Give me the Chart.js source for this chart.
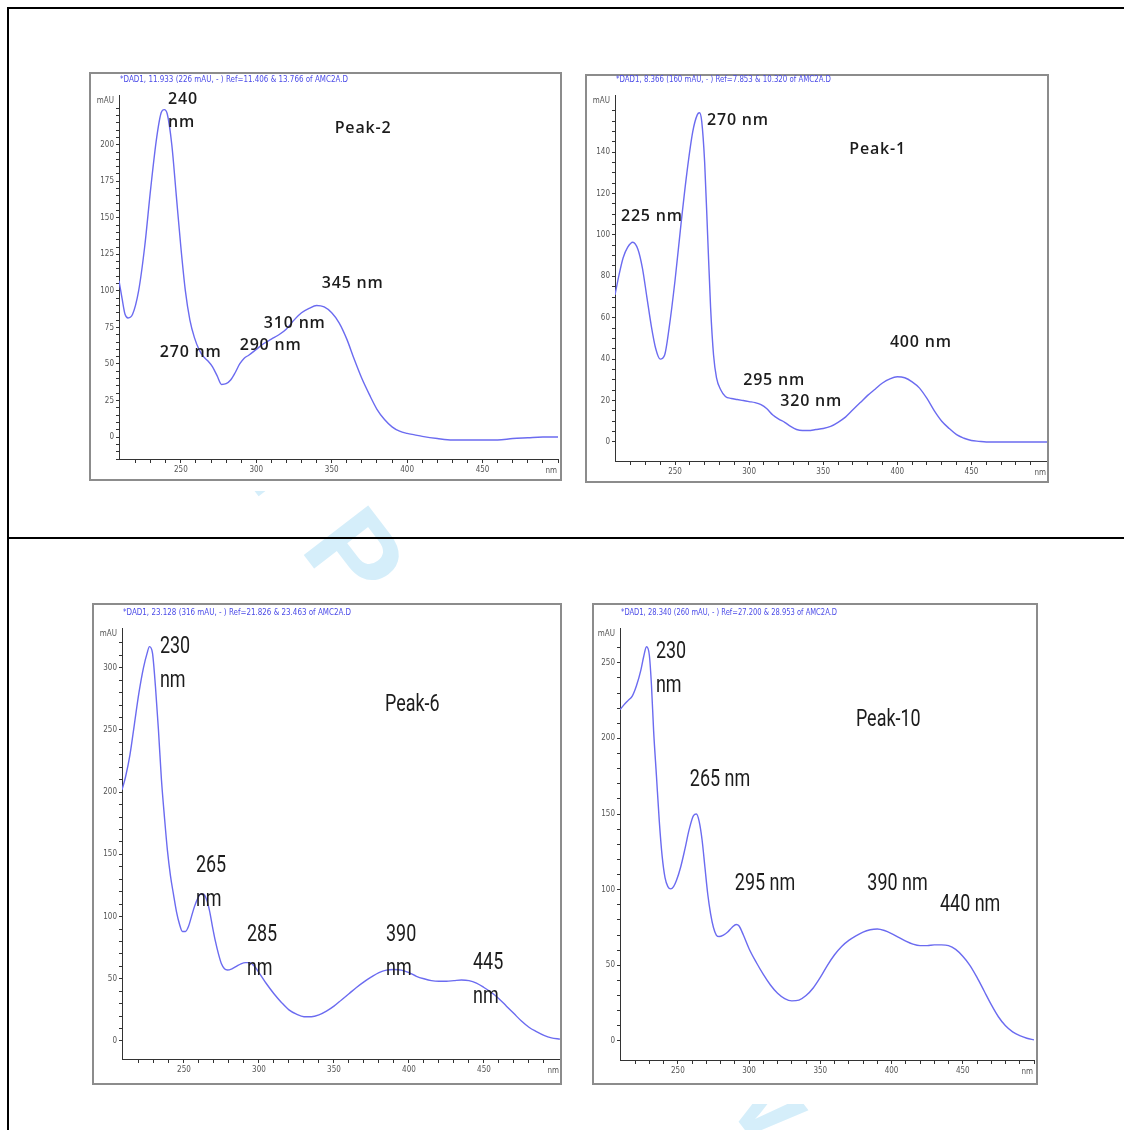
<!DOCTYPE html>
<html><head>
<meta charset="utf-8">
<title>UV spectra</title>
<script src="https://cdn.jsdelivr.net/npm/chart.js"></script>
<style>
body { margin:0; background:#fff; width:1124px; height:1130px; position:relative; overflow:hidden; }
.rule { position:absolute; background:#000; z-index:3; }
.wm { position:absolute; left:228px; top:292px; transform-origin:0 0; transform:rotate(52.5deg); letter-spacing:6px;
      font:bold 118px "Liberation Sans", Arial, sans-serif; line-height:1; color:#d5eefa; white-space:nowrap; z-index:1; }
.cover { position:absolute; background:#fff; z-index:2; }
.frame { position:absolute; box-sizing:border-box; border:2px solid #8c8c8c; background:#fff; z-index:2; }
canvas { position:absolute; z-index:4; }
</style>
</head>
<body>
<div class="wm">For Peer Review</div>
<div class="cover" style="left:9px;top:9px;width:1115px;height:482px"></div>
<div class="cover" style="left:9px;top:592px;width:1115px;height:512px"></div>
<div class="rule" style="left:8px;top:7px;width:1116px;height:2px"></div>
<div class="rule" style="left:7px;top:7px;width:2px;height:1123px"></div>
<div class="rule" style="left:8px;top:537px;width:1116px;height:2px"></div>
<div id="frames"></div>
<script>
// Peak-2 (top left)
var peak2Wl  = [209, 211, 213, 215, 218, 222, 226, 230, 234, 237, 239, 241, 244, 247, 250, 253, 256, 259, 262, 265, 268, 271, 274, 277, 280, 283, 286, 289, 292, 295, 300, 305, 310, 315, 320, 325, 330, 335, 340, 345, 350, 355, 360, 365, 370, 375, 380, 385, 390, 395, 400, 405, 410, 420, 430, 440, 450, 460, 470, 480, 490, 500];
var peak2Abs = [107, 95, 84, 81.5, 84, 100, 130, 170, 205, 222, 224, 221, 200, 165, 130, 100, 80, 68, 60, 55, 52, 48, 42, 36, 36.5, 39, 44, 50, 54, 56, 60, 64, 67, 70, 74, 80, 85, 88, 90, 89, 85, 78, 67, 53, 40, 29, 19, 12, 7, 4, 2.5, 1.5, 0.5, -1, -2, -2, -2, -2, -1, -0.5, 0, 0];
var peak2Labels = [
  {text: '240\nnm', x: 241.5, y: 230.8},
  {text: 'Peak-2', x: 352, y: 211},
  {text: '345 nm', x: 343.4, y: 104.8},
  {text: '310 nm', x: 305, y: 78},
  {text: '290 nm', x: 289, y: 63},
  {text: '270 nm', x: 236, y: 58}
];

// Peak-1 (top right)
var peak1Wl  = [209.5, 212, 215, 218, 221.5, 225, 228, 231, 234, 237, 240, 243, 246, 250, 254, 258, 262, 265, 266.5, 268, 270, 272, 274, 276, 278, 281, 284, 288, 292, 296, 300, 304, 308, 312, 316, 320, 324, 328, 332, 336, 340, 345, 350, 355, 360, 365, 370, 375, 380, 385, 390, 395, 400, 405, 410, 415, 420, 425, 430, 435, 440, 445, 450, 455, 460, 470, 480, 490, 501];
var peak1Abs = [71, 80, 89, 94, 96.5, 93, 84, 70, 56, 45, 40, 42, 55, 78, 105, 130, 150, 158, 159, 155, 135, 100, 65, 42, 31, 25, 22, 21, 20.5, 20, 19.5, 19, 18, 16, 13, 11, 9.5, 7.5, 6, 5.5, 5.5, 6, 6.5, 7.5, 9.5, 12, 15.5, 19, 22.5, 25.5, 28.5, 30.5, 31.5, 31, 29, 26, 21, 15, 10, 6.5, 3.5, 1.8, 0.7, 0.3, 0, 0, 0, 0, 0];
var peak1Labels = [
  {text: '270 nm', x: 271.6, y: 155.5},
  {text: 'Peak-1', x: 367.6, y: 141.5},
  {text: '225 nm', x: 213.5, y: 109},
  {text: '400 nm', x: 395, y: 48.3},
  {text: '295 nm', x: 296, y: 29.5},
  {text: '320 nm', x: 321, y: 19.8}
];

// Peak-6 (bottom left)
var peak6Wl  = [208.7, 211, 214, 217, 220, 223, 225.5, 227, 229, 231, 233, 235, 237, 239, 241, 243, 245, 247, 249, 251, 253, 255, 257, 259, 261, 263, 265, 267, 269, 271, 273, 275, 277, 279, 282, 285, 288, 291, 294, 297, 300, 305, 310, 315, 320, 325, 330, 335, 340, 345, 350, 355, 360, 365, 370, 375, 380, 385, 390, 395, 400, 405, 410, 415, 420, 425, 430, 435, 440, 445, 450, 455, 460, 465, 470, 475, 480, 485, 490, 495, 500.7];
var peak6Abs = [202, 212, 230, 255, 280, 300, 312, 317, 312, 285, 250, 210, 180, 153, 133, 118, 104, 94, 88, 88, 92, 100, 108, 114, 118, 118, 114, 105, 92, 80, 70, 62, 58, 57, 58, 60, 62, 63, 63, 60, 55, 46, 38, 31, 25, 21.5, 19.5, 19.5, 21, 24, 28, 33, 38, 43, 47.5, 51.5, 55, 57, 57.5, 57, 55, 52, 50, 48.5, 48, 48, 48.5, 49, 48.5, 46.5, 43, 39, 34, 28, 22, 16, 11, 7.5, 4.5, 2.5, 1.5];
var peak6Labels = [
  {text: '230\nnm', x: 234, y: 316.7},
  {text: 'Peak-6', x: 384, y: 270},
  {text: '265\nnm', x: 258, y: 140.7},
  {text: '285\nnm', x: 292, y: 85},
  {text: '390\nnm', x: 384.7, y: 85},
  {text: '445\nnm', x: 442.7, y: 62.7}
];

// Peak-10 (bottom right)
var peak10Wl  = [209.4, 212, 215, 218, 221, 224, 226, 228, 230, 231.5, 233, 235, 237, 239, 241, 243, 245, 247, 249, 252, 255, 258, 261, 263, 265, 267, 269, 271, 273, 275, 277, 279, 282, 285, 288, 291, 293, 296, 300, 305, 310, 315, 320, 325, 330, 335, 340, 345, 350, 355, 360, 365, 370, 375, 380, 385, 390, 395, 400, 405, 410, 415, 420, 425, 430, 435, 440, 445, 450, 455, 460, 465, 470, 475, 480, 485, 490, 495, 500];
var peak10Abs = [219, 222, 225, 228, 235, 245, 254, 260.6, 255, 235, 205, 175, 145, 122, 108, 102, 100.5, 102, 106, 115, 127, 140, 149, 150, 145, 133, 115, 97, 84, 75, 70, 69, 70, 72, 75, 77, 76, 70, 61, 52, 44, 37, 31.5, 28, 26.5, 27, 30, 35, 42, 50, 57, 62.5, 66.5, 69.5, 72, 73.5, 74, 73, 71, 68.5, 66, 64, 63, 63, 63.5, 63.5, 63, 60.5, 56, 50, 42, 33, 24, 16, 10, 6, 3.5, 1.8, 0.7];
var peak10Labels = [
  {text: '230\nnm', x: 234.6, y: 257},
  {text: 'Peak-10', x: 375, y: 212},
  {text: '265 nm', x: 258.4, y: 172.6},
  {text: '295 nm', x: 290, y: 103.8},
  {text: '390 nm', x: 383, y: 103.8},
  {text: '440 nm', x: 434, y: 90}
];

var panels = [
  {title: '*DAD1, 11.933 (226 mAU, - ) Ref=11.406 & 13.766 of AMC2A.D', titleW: 228,
   wl: peak2Wl, abs: peak2Abs, labels: peak2Labels, yMin: -15, yMax: 234, yMajor: 25, yMinor: 5, yTop: 200,
   box: [89, 72, 560, 479], area: [119, 95, 560, 459], font: '600 16px "Open Sans"', spacing: '0.8px', squeeze: 1, gap: 23},
  {title: '*DAD1, 8.366 (160 mAU, - ) Ref=7.853 & 10.320 of AMC2A.D', titleW: 215,
   wl: peak1Wl, abs: peak1Abs, labels: peak1Labels, yMin: -9.2, yMax: 167.6, yMajor: 20, yMinor: 5, yTop: 140,
   box: [585, 74, 1047, 481], area: [615, 95, 1047, 461], font: '600 16px "Open Sans"', spacing: '0.8px', squeeze: 1, gap: 23},
  {title: '*DAD1, 23.128 (316 mAU, - ) Ref=21.826 & 23.463 of AMC2A.D', titleW: 228,
   wl: peak6Wl, abs: peak6Abs, labels: peak6Labels, yMin: -14.5, yMax: 332, yMajor: 50, yMinor: 10, yTop: 300,
   box: [92, 603, 560, 1083], area: [122, 628, 560, 1059], font: '23px Roboto', spacing: '0px', squeeze: 0.78, gap: 34},
  {title: '*DAD1, 28.340 (260 mAU, - ) Ref=27.200 & 28.953 of AMC2A.D', titleW: 216,
   wl: peak10Wl, abs: peak10Abs, labels: peak10Labels, yMin: -12.6, yMax: 273, yMajor: 50, yMinor: 10, yTop: 250,
   box: [592, 603, 1036, 1083], area: [620, 628, 1036, 1060], font: '23px Roboto', spacing: '0px', squeeze: 0.78, gap: 34}
];

var tickFont = {family: '"Liberation Sans Narrow", "DejaVu Sans Condensed", sans-serif', size: 8};

var annotate = {
  id: 'annotate',
  afterDraw: function(chart, args, o) {
    var ctx = chart.ctx, xs = chart.scales.x, ys = chart.scales.y, a = chart.chartArea;
    ctx.save();
    ctx.textBaseline = 'middle';
    ctx.textAlign = 'left';
    ctx.fillStyle = '#4b4be8';
    ctx.font = '8px "DejaVu Sans Condensed", sans-serif';
    ctx.fillText(o.p.title, a.left + 1, a.top - 15, o.p.titleW);
    ctx.fillStyle = '#555';
    ctx.textAlign = 'right';
    ctx.fillText('mAU', a.left - 5, a.top + 6);
    ctx.fillText('nm', a.right - 1, a.bottom + 12);
    ctx.textAlign = 'left';
    ctx.fillStyle = '#1c1c1c';
    ctx.font = o.p.font;
    ctx.letterSpacing = o.p.spacing;
    o.p.labels.forEach(function(l) {
      var px = xs.getPixelForValue(l.x), py = ys.getPixelForValue(l.y);
      l.text.split('\n').forEach(function(s, i) {
        ctx.save();
        ctx.translate(px, py + i * o.p.gap);
        ctx.scale(o.p.squeeze, 1);
        ctx.fillText(s, 0, 0);
        ctx.restore();
      });
    });
    ctx.restore();
  }
};

function draw(p, i) {
  var frame = document.createElement('div');
  frame.className = 'frame';
  frame.style.left = p.box[0] + 'px';
  frame.style.top = p.box[1] + 'px';
  frame.style.width = (p.box[2] - p.box[0] + 2) + 'px';
  frame.style.height = (p.box[3] - p.box[1] + 2) + 'px';
  document.getElementById('frames').appendChild(frame);

  var canvas = document.createElement('canvas');
  canvas.width = p.box[2] - p.box[0];
  canvas.height = p.box[3] - p.box[1];
  canvas.style.left = p.box[0] + 'px';
  canvas.style.top = p.box[1] + 'px';
  document.body.appendChild(canvas);

  var points = p.wl.map(function(w, k) { return {x: w, y: p.abs[k]}; });

  new Chart(canvas, {
    type: 'line',
    data: {
      datasets: [{
        data: points,
        borderColor: '#6b6bf0',
        borderWidth: 1.4,
        pointRadius: 0,
        cubicInterpolationMode: 'monotone',
        fill: false
      }]
    },
    options: {
      responsive: false,
      animation: false,
      devicePixelRatio: 1,
      layout: {padding: {top: p.area[1] - p.box[1], right: p.box[2] - p.area[2], left: 0, bottom: 0}},
      plugins: {legend: {display: false}, tooltip: {enabled: false}, annotate: {p: p}},
      scales: {
        x: {
          type: 'linear',
          min: p.wl[0],
          max: p.wl[p.wl.length - 1],
          afterBuildTicks: function(s) { s.ticks = s.ticks.filter(function(t) { return t.value % 10 === 0; }); },
          afterFit: function(s) { s.height = p.box[3] - p.area[3]; },
          ticks: {
            stepSize: 10, autoSkip: false, maxRotation: 0, padding: 2,
            font: tickFont, color: '#555',
            callback: function(v) { return (v % 50 === 0 && v >= 250 && v <= 450) ? v : ''; }
          },
          grid: {drawOnChartArea: false, tickLength: 4, tickColor: '#333', tickWidth: 1},
          border: {color: '#333', width: 1}
        },
        y: {
          min: p.yMin,
          max: p.yMax,
          afterBuildTicks: function(s) { s.ticks = s.ticks.filter(function(t) { return t.value % p.yMinor === 0; }); },
          afterFit: function(s) { s.width = p.area[0] - p.box[0]; },
          ticks: {
            stepSize: p.yMinor, autoSkip: false, padding: 2,
            font: tickFont, color: '#555',
            callback: function(v) { return (v % p.yMajor === 0 && v <= p.yTop) ? v : ''; }
          },
          grid: {drawOnChartArea: false, tickLength: 3, tickColor: '#333', tickWidth: 1},
          border: {color: '#333', width: 1}
        }
      }
    },
    plugins: [annotate]
  });
}

panels.forEach(draw);
</script>
</body></html>
